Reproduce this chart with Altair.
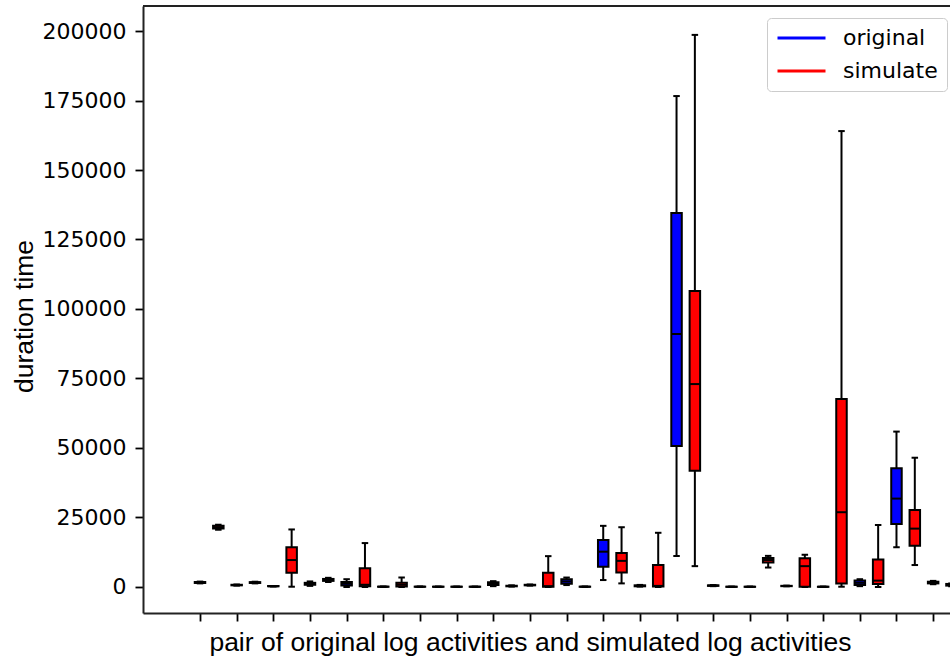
import altair as alt
import pandas as pd

# ---- data (one box per position; even = original, odd = simulate)
series_names = ["original", "simulate"]
series_colors = ["#0000ff", "#ff0000"]
positions = list(range(42))
series = [series_names[i % 2] for i in positions]

lo = [1300, 20600, 500, 1300, 200, 100, 400, 1800, 0, 0,
      50, 0, 50, 40, 40, 40, 300, 150, 500, 0,
      700, 50, 2500, 1300, 150, 0, 11150, 7500, 300, 20,
      20, 7000, 250, 0, 20, 100, 300, 0, 14300, 7900,
      1000, 300]
q1 = [1450, 21000, 600, 1450, 250, 5100, 800, 2200, 500, 300,
      80, 150, 80, 70, 70, 70, 700, 250, 600, 100,
      1200, 80, 7300, 5200, 250, 150, 50700, 41800, 400, 50,
      50, 8800, 300, 100, 50, 1300, 700, 1100, 22700, 14800,
      1300, 500]
med = [1600, 21500, 700, 1600, 300, 9700, 1100, 2500, 1200, 800,
       100, 800, 100, 90, 90, 90, 1200, 350, 700, 300,
       2000, 100, 12700, 9400, 400, 400, 91000, 73000, 500, 80,
       80, 9700, 360, 7500, 80, 26900, 1500, 2300, 31800, 21000,
       1600, 800]
q3 = [1800, 22000, 800, 1750, 350, 14300, 1500, 2900, 1800, 6700,
      130, 1500, 130, 120, 120, 120, 1700, 450, 800, 5100,
      2800, 130, 16900, 12200, 600, 7900, 134500, 106500, 600, 110,
      110, 10400, 420, 10300, 110, 67600, 2300, 9900, 42700, 27700,
      1900, 1100]
hi = [1950, 22400, 900, 1900, 400, 20700, 2000, 3300, 2800, 15800,
      160, 3400, 160, 150, 150, 150, 2100, 600, 900, 11100,
      3400, 160, 22000, 21500, 750, 19500, 176600, 198600, 700, 150,
      150, 11200, 500, 11600, 150, 164000, 2800, 22300, 55900, 46500,
      2200, 1300]

y_ticks = [0, 25000, 50000, 75000, 100000, 125000, 150000, 175000, 200000]
x_ticks = list(range(0, 42, 2))

df = pd.DataFrame({"pos": positions, "series": series, "lo": lo, "q1": q1,
                   "med": med, "q3": q3, "hi": hi})

W, H = 807, 607
xscale = alt.Scale(domain=[-3.11, 40.92], nice=False, zero=False, padding=0)
yscale = alt.Scale(domain=[-9353, 208993], nice=False, zero=False, padding=0)

x_axis = alt.Axis(values=x_ticks, labels=False, grid=False,
                  tickSize=8, tickWidth=1.8, tickColor="black",
                  domainColor="#222222", domainWidth=2,
                  title="pair of original log activities and simulated log activities",
                  titleFont="Liberation Sans", titleFontSize=26.5, titleFontWeight="normal",
                  titleColor="black", titleX=387, titleY=37, titleAlign="center",
                  titleBaseline="alphabetic", titleAnchor="middle")
y_axis = alt.Axis(values=y_ticks, format="d", grid=False,
                  tickSize=8, tickWidth=1.8, tickColor="black",
                  domainColor="#222222", domainWidth=2,
                  labelFont="DejaVu Sans", labelFontSize=22, labelColor="black",
                  labelPadding=9,
                  title="duration time",
                  titleFont="Liberation Sans", titleFontSize=26.5, titleFontWeight="normal",
                  titleColor="black", titleX=-111, titleY=310, titleAngle=270,
                  titleAlign="center", titleBaseline="alphabetic")


def X():
    return alt.X("pos:Q", scale=xscale, axis=x_axis)


def Y(field):
    return alt.Y(f"{field}:Q", scale=yscale, axis=y_axis)


base = alt.Chart(df)

whiskers = base.mark_rule(color="black", strokeWidth=2, clip=True).encode(
    x=X(), y=Y("lo"), y2="hi:Q",
)
cap_lo = base.mark_tick(orient="horizontal", size=6.5, thickness=2,
                        color="black", opacity=1, clip=True).encode(x=X(), y=Y("lo"))
cap_hi = base.mark_tick(orient="horizontal", size=6.5, thickness=2,
                        color="black", opacity=1, clip=True).encode(x=X(), y=Y("hi"))
boxes = base.mark_bar(size=10.5, stroke="black", strokeWidth=2, opacity=1, clip=True).encode(
    x=X(), y=Y("q1"), y2="q3:Q",
    fill=alt.Fill("series:N", scale=alt.Scale(domain=series_names, range=series_colors),
                  legend=None),
)
medians = base.mark_tick(orient="horizontal", size=10.5, thickness=2,
                         color="black", opacity=1, clip=True).encode(x=X(), y=Y("med"))

legend_src = alt.Chart(pd.DataFrame({"label": series_names})).mark_line(strokeWidth=3).encode(
    x=alt.value(0), y=alt.value(0),
    stroke=alt.Stroke("label:N",
                      scale=alt.Scale(domain=series_names, range=series_colors),
                      legend=alt.Legend(title=None, orient="none", legendX=624, legendY=12,
                                        symbolType="stroke", symbolSize=2304,
                                        symbolStrokeWidth=3, clipHeight=22,
                                        labelFont="DejaVu Sans", labelFontSize=22,
                                        labelColor="black", labelOffset=16,
                                        rowPadding=11, padding=9,
                                        fillColor="white", strokeColor="#cccccc",
                                        cornerRadius=4)),
)

top_spine = alt.Chart(pd.DataFrame({"a": [0]})).mark_rule(color="#222222", strokeWidth=2).encode(
    x=alt.value(0), x2=alt.value(W), y=alt.value(0)
)

chart = alt.layer(whiskers, cap_lo, cap_hi, boxes, medians, legend_src, top_spine).properties(
    width=W, height=H,
    autosize=alt.AutoSizeParams(type="none"),
    padding={"left": 143, "top": 6, "right": 0, "bottom": 45},
    background="white",
).resolve_scale(stroke="independent").configure_view(stroke=None)

chart.save("out.html", embed_options={"renderer": "svg", "actions": False})
